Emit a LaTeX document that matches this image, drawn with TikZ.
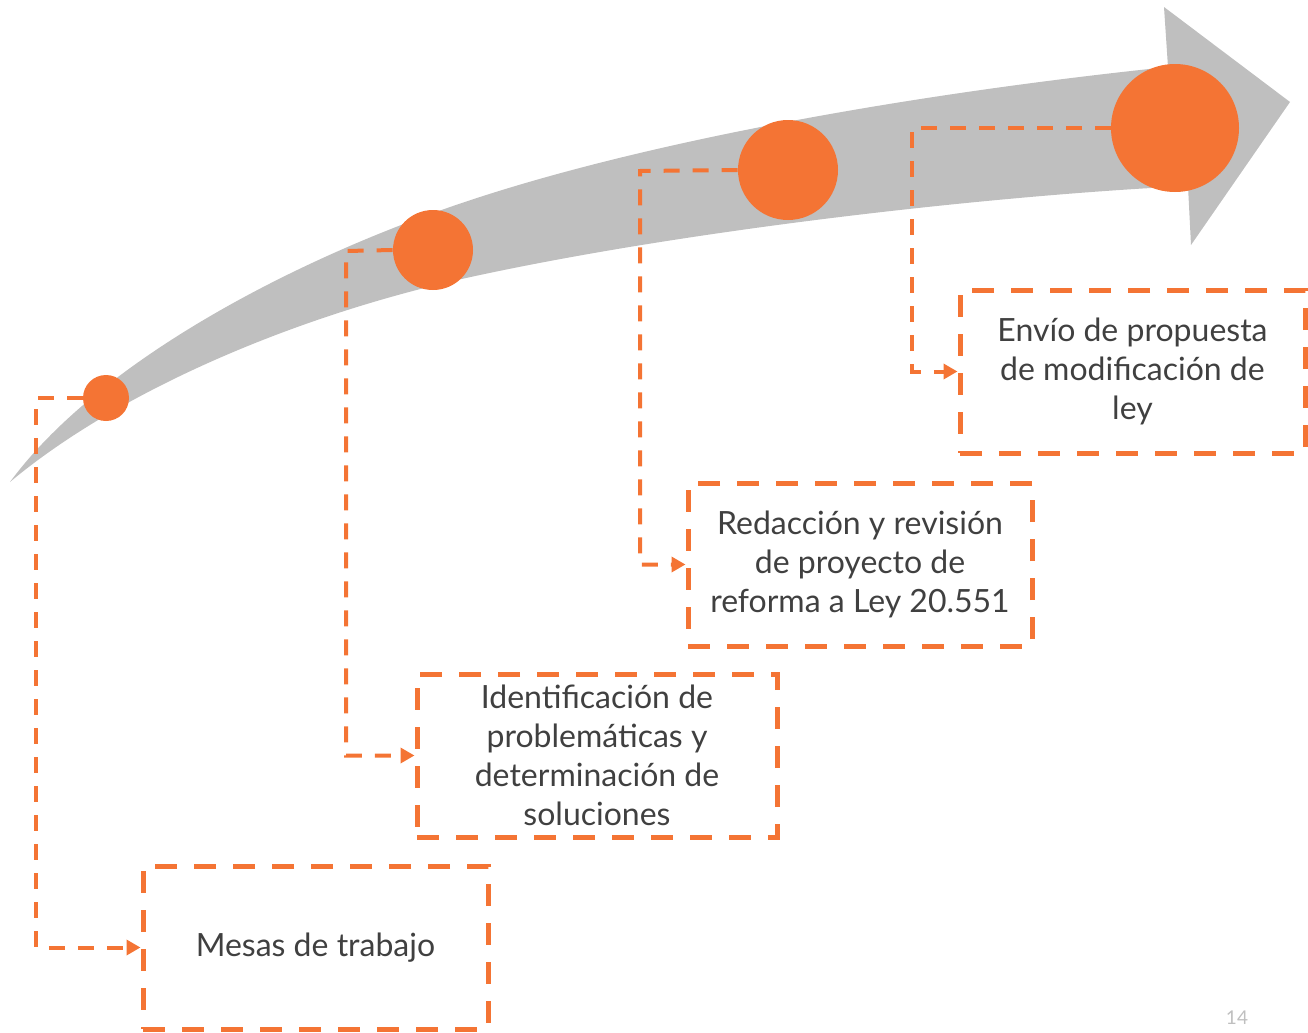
\documentclass[tikz,border=0pt]{standalone}
\usepackage{fontspec}
\setmainfont{Lato}
\usetikzlibrary{arrows.meta}
\definecolor{naranja}{HTML}{F47434}
\definecolor{gris}{HTML}{BFBFBF}
\definecolor{texto}{HTML}{404040}
\tikzstyle{hito}=[circle, fill=naranja, inner sep=0pt]
\tikzstyle{etapa}=[rectangle, draw=naranja, line width=2.5pt,
  dash pattern=on 11pt off 8.5pt, text=texto, align=center,
  minimum width=172.5pt, minimum height=81.5pt,
  font=\fontsize{16}{19.5}\selectfont]
\tikzstyle{arrflujo}=[-{Triangle[length=7pt,width=7.5pt]}, draw=naranja,
  line width=2pt, dash pattern=on 8pt off 6.5pt]

\begin{document}
\begin{tikzpicture}[x=0.5pt, y=-0.5pt]
\useasboundingbox (0,0) rectangle (1308,1033);

% flecha de fondo
\fill[gris] (10,482) .. controls (100,360) and (300,255) .. (480,197)
  .. controls (650,142) and (900,95) .. (1168,67)
  -- (1164,7) -- (1290,102) -- (1191,245) -- (1188,186)
  .. controls (1000,195) and (700,228) .. (480,275)
  .. controls (300,313) and (120,390) .. (10,482) -- cycle;

\node[hito, minimum size=23pt] (mesa) at (106,398) {};
\node[hito, minimum size=40pt] (ident) at (433,250) {};
\node[hito, minimum size=50pt] (redac) at (788,170) {};
\node[hito, minimum size=64pt] (envio) at (1175,128) {};

\node[etapa] (bmesa) at (315.5,947.5) {Mesas de trabajo};
\node[etapa, minimum width=180pt] (bident) at (597,755.5)
  {Identificación de\\problemáticas y\\determinación de\\soluciones};
\node[etapa, minimum width=172pt] (bredac) at (860,564.5)
  {Redacción y revisión\\de proyecto de\\reforma a Ley 20.551};
\node[etapa] (benvio) at (1132.5,371.5)
  {Envío de propuesta\\de modificación de\\ley};

\coordinate (kmesa) at (36,398);
\coordinate (kident) at (346,251);
\coordinate (kredac) at (640,171);
\coordinate (kenvio) at (912,128);

\draw[arrflujo] (mesa.west) -- (kmesa) |- (bmesa.west);
\draw[arrflujo] (ident.west) -- (kident) |- (bident.west);
\draw[arrflujo] (redac.west) -- (kredac) |- (bredac.west);
\draw[arrflujo] (envio.west) -- (kenvio) |- (benvio.west);

\node[text=gris, font=\fontsize{9.5}{11}\selectfont, anchor=north,
  inner sep=0pt] (pagina) at (1237,1010) {14};
\end{tikzpicture}
\end{document}
